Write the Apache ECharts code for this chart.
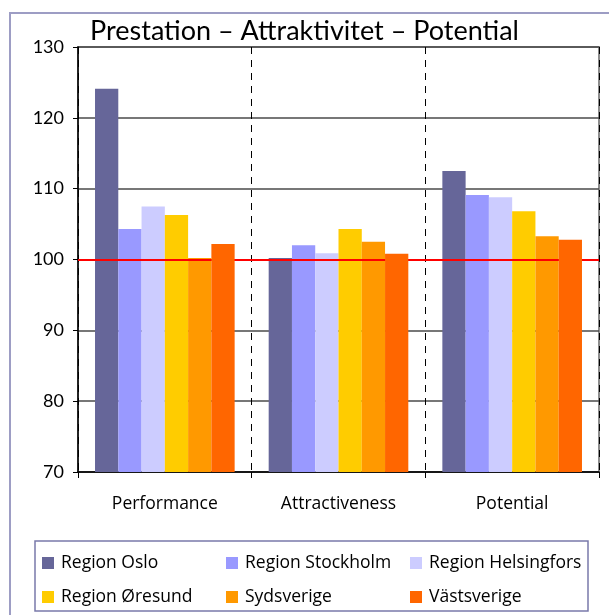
<!DOCTYPE html>
<html>
<head>
<meta charset="utf-8">
<script src="https://cdn.jsdelivr.net/npm/echarts@6/dist/echarts.min.js"></script>
<style>
  html, body { margin: 0; padding: 0; background: #fff; }
  #chart { width: 609px; height: 615px; }
</style>
</head>
<body>
<div id="chart"></div>
<script>
// Index values per dimension (100 = reference level)
const categories = ['Performance', 'Attractiveness', 'Potential'];
const regionNames = ['Region Oslo', 'Region Stockholm', 'Region Helsingfors',
                     'Region Øresund', 'Sydsverige', 'Västsverige'];
const oslo        = [124.1, 100.2, 112.5];
const stockholm   = [104.3, 102.0, 109.1];
const helsingfors = [107.5, 100.9, 108.8];
const oresund     = [106.3, 104.3, 106.8];
const sydsverige  = [100.2, 102.5, 103.3];
const vastsverige = [102.2, 100.8, 102.8];
const yTicks = [70, 80, 90, 100, 110, 120, 130];
const referenceLevel = 100;

const seriesValues = [oslo, stockholm, helsingfors, oresund, sydsverige, vastsverige];
const colors = ['#666699', '#9999FF', '#CCCCFF', '#FFCC00', '#FF9900', '#FF6600'];
const FONT = 'Lato';
const SMALL_FONT = 'Open Sans';

const series = regionNames.map((name, i) => {
  const s = {
    name: name,
    type: 'bar',
    data: seriesValues[i],
    barGap: 0,
    barCategoryGap: '19.6%',
    itemStyle: { color: colors[i] },
    emphasis: { disabled: true }
  };
  if (i === regionNames.length - 1) {
    s.z = 5;
    s.markLine = {
      silent: true,
      symbol: 'none',
      label: { show: false },
      lineStyle: { color: '#FF0000', width: 2, type: 'solid' },
      data: [{ yAxis: referenceLevel }]
    };
  }
  return s;
});

// One legend per slot, laid out in a 3 x 2 grid
const legendCols = [42, 226, 410];
const legendRows = [552, 586];
const legends = regionNames.map((name, i) => ({
  data: [name],
  left: legendCols[i % 3],
  top: legendRows[Math.floor(i / 3)],
  padding: 0,
  icon: 'rect',
  itemWidth: 12,
  itemHeight: 12,
  selectedMode: false,
  textStyle: { fontFamily: SMALL_FONT, fontSize: 17.5, color: '#000', lineHeight: 22, padding: [0, 0, 0, 2] }
}));

const chart = echarts.init(document.getElementById('chart'), null, { renderer: 'canvas' });
chart.setOption({
  animation: false,
  backgroundColor: '#fff',
  title: {
    text: 'Prestation – Attraktivitet – Potential',
    left: 'center',
    top: 18,
    padding: 0,
    textStyle: { fontFamily: FONT, fontSize: 27, fontWeight: 'normal', color: '#000' }
  },
  legend: legends,
  grid: {
    left: 78, right: 10, top: 47, bottom: 143,
    show: true, borderColor: '#8c8c8c', borderWidth: 2, backgroundColor: 'transparent'
  },
  xAxis: {
    type: 'category',
    data: categories,
    boundaryGap: true,
    axisLine: { lineStyle: { color: '#000', width: 1.5 } },
    axisTick: { show: true, length: 6, lineStyle: { color: '#000', width: 1 } },
    axisLabel: { fontFamily: SMALL_FONT, fontSize: 17.5, color: '#000', margin: 23 },
    splitLine: { show: true, lineStyle: { color: '#000', width: 1, type: [7, 6] } }
  },
  yAxis: {
    type: 'value',
    min: yTicks[0],
    max: yTicks[yTicks.length - 1],
    interval: yTicks[1] - yTicks[0],
    axisLine: { show: true, lineStyle: { color: '#000', width: 1.5 } },
    axisTick: { show: true, length: 5, lineStyle: { color: '#000', width: 1 } },
    axisLabel: { fontFamily: FONT, fontSize: 18, color: '#000', margin: 14 },
    splitLine: { show: true, lineStyle: { color: '#4a4a4a', width: 1.5 } }
  },
  graphic: [
    {
      type: 'rect',
      shape: { x: 10, y: 13, width: 640, height: 640 },
      style: { fill: 'none', stroke: '#9d9dc4', lineWidth: 2 },
      silent: true, z: -1
    },
    {
      type: 'rect',
      shape: { x: 35, y: 541, width: 553, height: 70 },
      style: { fill: 'none', stroke: '#7a7aaa', lineWidth: 1.5 },
      silent: true, z: -1
    }
  ],
  series: series
});
</script>
</body>
</html>
